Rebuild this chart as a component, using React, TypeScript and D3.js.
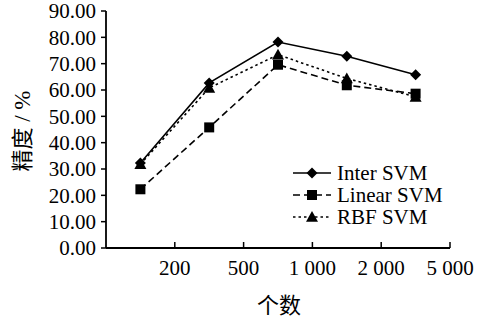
import React from "react";
import * as d3 from "d3";

const categories = ["c1", "c2", "c3", "c4", "c5"];
const xTickLabels = ["200", "500", "1 000", "2 000", "5 000"];
const yTicks = [0, 10, 20, 30, 40, 50, 60, 70, 80, 90];
const interSVM = [32.3, 62.7, 78.2, 72.8, 65.8];
const linearSVM = [22.3, 45.8, 69.6, 61.8, 58.6];
const rbfSVM = [31.8, 60.8, 73.4, 64.4, 57.4];
const seriesNames = ["Inter SVM", "Linear SVM", "RBF SVM"];

const W = 490, H = 321;
const left = 106, right = 450, top = 11, bottom = 248;
const FONT = "'Liberation Serif', 'Times New Roman', serif";
const CJK = "'Noto Sans CJK SC', sans-serif";

export default function App() {
  const x = d3.scaleBand<string>().domain(categories).range([left, right]);
  const y = d3.scaleLinear().domain([0, 90]).range([bottom, top]);
  const cx = (c: string) => (x(c) as number) + x.bandwidth() / 2;

  const series = [
    { name: seriesNames[0], values: interSVM, dash: "none", marker: "diamond" },
    { name: seriesNames[1], values: linearSVM, dash: "7,4", marker: "square" },
    { name: seriesNames[2], values: rbfSVM, dash: "2.5,3", marker: "triangle" },
  ];

  const line = d3
    .line<number>()
    .x((_, i) => cx(categories[i]))
    .y((d) => y(d));

  const marker = (type: string, px: number, py: number, key: string) => {
    if (type === "diamond") {
      const s = 5.5;
      return (
        <path key={key} d={`M${px},${py - s}L${px + s},${py}L${px},${py + s}L${px - s},${py}Z`} fill="#000" />
      );
    }
    if (type === "square") {
      return <rect key={key} x={px - 5} y={py - 5} width={10} height={10} fill="#000" />;
    }
    const s = 6;
    return (
      <path key={key} d={`M${px},${py - s}L${px + s},${py + s * 0.8}L${px - s},${py + s * 0.8}Z`} fill="#000" />
    );
  };

  return (
    <svg width={W} height={H} style={{ position: "absolute", left: 0, top: 0, background: "#fff" }}>
      <rect width={W} height={H} fill="#fff" />
      {/* Y axis */}
      <line x1={left} x2={left} y1={top} y2={bottom} stroke="#000" strokeWidth={1.8} />
      {yTicks.map((t) => (
        <g key={t}>
          <line x1={left - 5} x2={left} y1={y(t)} y2={y(t)} stroke="#000" strokeWidth={1.5} />
          <text x={96} y={y(t)} dy="0.35em" textAnchor="end" fontFamily={FONT} fontSize={21} fill="#000">
            {t.toFixed(2)}
          </text>
        </g>
      ))}
      {/* X axis */}
      <line x1={left} x2={right} y1={bottom} y2={bottom} stroke="#000" strokeWidth={1.8} />
      {categories.map((c, i) => {
        const tx = (x(c) as number) + x.bandwidth();
        return (
          <g key={c}>
            <line x1={tx} x2={tx} y1={bottom} y2={bottom - 6} stroke="#000" strokeWidth={1.5} />
            <text x={tx} y={275} textAnchor="middle" fontFamily={FONT} fontSize={21} fill="#000">
              {xTickLabels[i]}
            </text>
          </g>
        );
      })}
      {/* Series */}
      {series.map((s) => (
        <g key={s.name}>
          <path d={line(s.values) as string} fill="none" stroke="#000" strokeWidth={1.6} strokeDasharray={s.dash} />
          {s.values.map((v, i) => marker(s.marker, cx(categories[i]), y(v), s.name + i))}
        </g>
      ))}
      {/* Legend */}
      {series.map((s, i) => {
        const ly = 173 + i * 22;
        return (
          <g key={"lg" + s.name}>
            <line x1={293} x2={331} y1={ly} y2={ly} stroke="#000" strokeWidth={1.6} strokeDasharray={s.dash} />
            {marker(s.marker, 312, ly, "lm" + i)}
            <text x={337} y={ly} dy="0.35em" fontFamily={FONT} fontSize={21} fill="#000">
              {s.name}
            </text>
          </g>
        );
      })}
      {/* Axis titles */}
      <text x={279} y={305} dy="0.35em" textAnchor="middle" fontFamily={CJK} fontSize={22} fill="#000">
        个数
      </text>
      <text
        transform={`translate(22,131) rotate(-90)`}
        textAnchor="middle"
        dy="0.35em"
        fontSize={22}
        fill="#000"
      >
        <tspan fontFamily={CJK}>精度</tspan>
        <tspan fontFamily={FONT} fontSize={23}>{"\u00a0/\u00a0%"}</tspan>
      </text>
    </svg>
  );
}
